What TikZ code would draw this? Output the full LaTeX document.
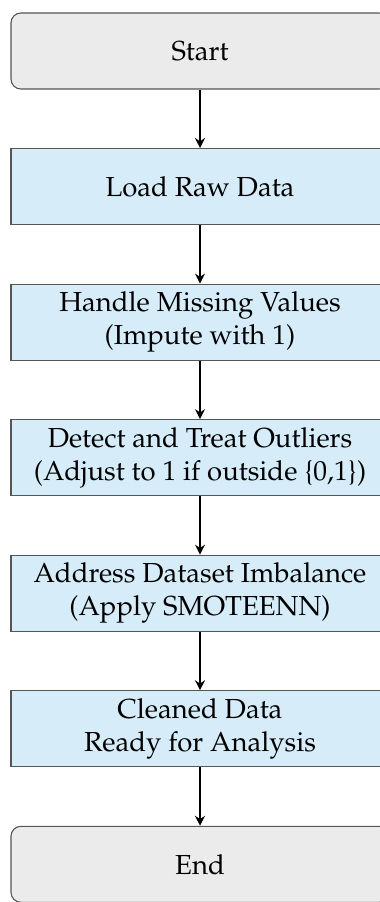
\documentclass[tikz,border=0pt]{standalone}
\usepackage[T1]{fontenc}
\usepackage{mathpazo}
\usepackage{xcolor}
\usepackage{tikz}
\usetikzlibrary{arrows.meta,positioning}
\definecolor{termfill}{RGB}{235,235,235}
\definecolor{procfill}{RGB}{214,236,249}
\definecolor{edgegray}{RGB}{85,85,85}
\tikzset{
  term/.style={draw=edgegray,fill=termfill,rounded corners=3.6pt,minimum width=137.45pt,minimum height=27.64pt,inner ysep=2pt,align=center,line width=0.4pt},
  proc/.style={draw=edgegray,fill=procfill,minimum width=137.45pt,minimum height=27.64pt,inner ysep=2pt,align=center,line width=0.4pt},
  flow/.style={line width=0.7pt,-{Stealth[length=3.6pt,width=3.6pt]}}
}

\begin{document}
\begin{tikzpicture}[node distance=21.25pt]
\useasboundingbox (-72.73pt,18.55pt) rectangle (65.09pt,-309.45pt);
\node[term] (start) at (0,0) {Start};
\node[proc,below=of start] (load) {Load Raw Data};
\node[proc,below=of load] (miss) {Handle Missing Values\\(Impute with 1)};
\node[proc,below=of miss] (outl) {Detect and Treat Outliers\\(Adjust to 1 if outside \{0,1\})};
\node[proc,below=of outl] (imb) {Address Dataset Imbalance\\(Apply SMOTEENN)};
\node[proc,below=of imb] (clean) {Cleaned Data\\Ready for Analysis};
\node[term,below=of clean] (end) {End};
\draw[flow] (start) -- (load);
\draw[flow] (load) -- (miss);
\draw[flow] (miss) -- (outl);
\draw[flow] (outl) -- (imb);
\draw[flow] (imb) -- (clean);
\draw[flow] (clean) -- (end);
\end{tikzpicture}
\end{document}
